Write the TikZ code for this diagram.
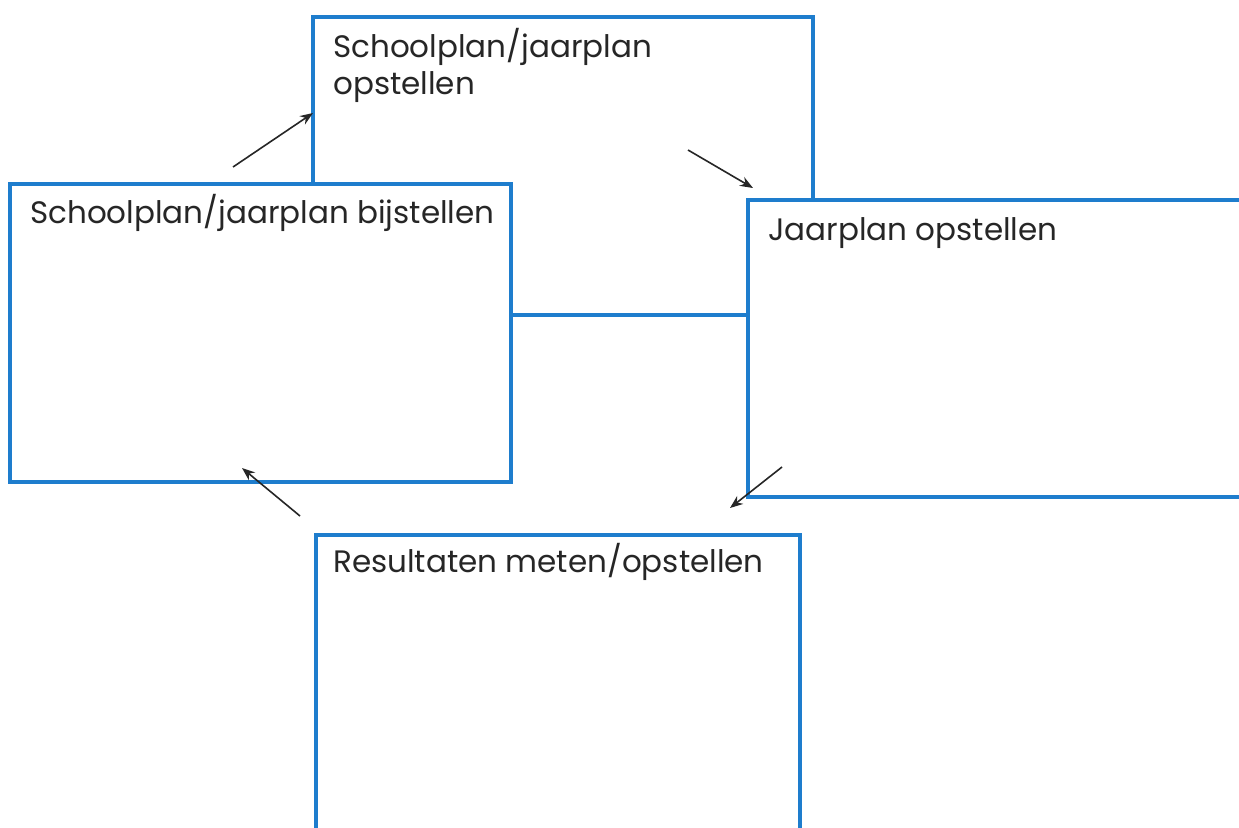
\documentclass[tikz,border=0pt]{standalone}
\usepackage{fontspec}
\setmainfont{Poppins}
\usetikzlibrary{arrows.meta,positioning}
\definecolor{boxblue}{RGB}{30,125,205}
\tikzset{
  stepbox/.style={draw=boxblue,line width=3.6pt,fill=white,outer sep=0pt,inner sep=0pt,anchor=north west},
  lbl/.style={anchor=base west,inner sep=0pt,text=black!85,align=left},
  flow/.style={->,line width=1.6pt,black!85}
}
\begin{document}
\begin{tikzpicture}[x=1pt,y=-1pt,>={Stealth[length=13pt,width=10pt]},font=\fontsize{31}{37}\selectfont]
				\clip (0,0) rectangle (1239,827);
				\fill[white] (0,0) rectangle (1239,827);
				% boxes
				\node[stepbox,minimum width=500pt,minimum height=298pt] (plan) at (313,17) {};
				\node[stepbox,minimum width=501pt,minimum height=298pt] (bijstel) at (10,184) {};
				\node[stepbox,minimum width=500pt,minimum height=297pt] (jaar) at (748,200) {};
				\node[stepbox,minimum width=484pt,minimum height=300pt] (result) at (316,535) {};
				% labels
				\node[lbl] (plantxt) at ([shift={(20,77)}]plan.north west) {Schoolplan/jaarplan\\opstellen};
				\node[lbl] (bijsteltxt) at ([shift={(20,39)}]bijstel.north west) {Schoolplan/jaarplan bijstellen};
				\node[lbl] (jaartxt) at ([shift={(20,40)}]jaar.north west) {Jaarplan opstellen};
				\node[lbl] (resulttxt) at ([shift={(17,37)}]result.north west) {Resultaten meten/opstellen};
				% arrows
				\coordinate (p1) at (233,167);
				\coordinate (q1) at (313,113);
				\coordinate (p2) at (688,150);
				\coordinate (q2) at (753,188);
				\coordinate (p3) at (782,467);
				\coordinate (q3) at (730,508);
				\coordinate (p4) at (300,516);
				\coordinate (q4) at (242,468);
				\draw[flow] (p1) -- (q1);
				\draw[flow] (p2) -- (q2);
				\draw[flow] (p3) -- (q3);
				\draw[flow] (p4) -- (q4);
			\end{tikzpicture}
\end{document}
